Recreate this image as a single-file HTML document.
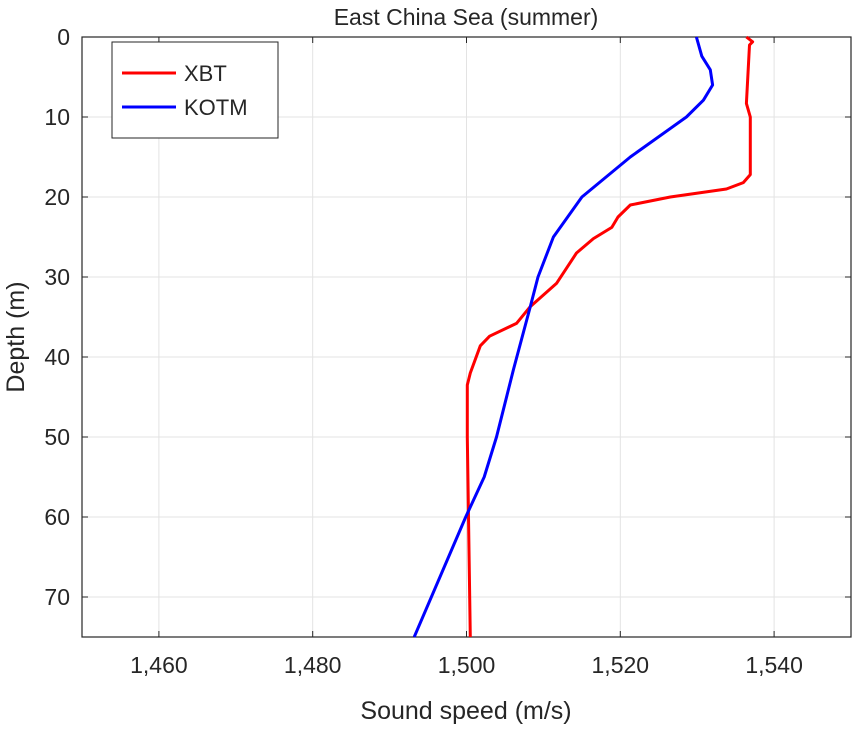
<!DOCTYPE html>
<html><head><meta charset="utf-8"><style>
body{margin:0;background:#fff;}
svg text{font-family:"Liberation Sans",sans-serif;fill:#262626;}
</style></head><body>
<svg id="c" width="853" height="728" xmlns="http://www.w3.org/2000/svg"></svg>
<script>
const xTicks=[1460,1480,1500,1520,1540];
const xTickLabels=["1,460","1,480","1,500","1,520","1,540"];
const yTicks=[0,10,20,30,40,50,60,70];
const kotmDepth=[0,2.4,4.1,6.0,7.9,10,15,20,25,30,33.7,41.6,50,55,60,75];
const kotmSpeed=[1529.9,1530.6,1531.7,1532.0,1530.8,1528.6,1521.3,1515.0,1511.3,1509.3,1508.3,1506.1,1503.9,1502.3,1499.9,1493.2];
const xbtDepth=[0,0.6,1,8.3,10,17.2,18.2,19,20,21,22.5,23.8,25.2,27,30.8,33.7,35.8,37.4,38.6,42,43.5,50,75];
const xbtSpeed=[1536.4,1537.2,1536.8,1536.4,1536.9,1536.9,1536.0,1533.8,1526.5,1521.3,1519.7,1518.9,1516.5,1514.3,1511.7,1508.3,1506.5,1503.0,1501.8,1500.5,1500.1,1500.1,1500.5];
const L=82,R=851,T=37,B=637;
const X=v=>L+(v-1450)/100*(R-L);
const Y=d=>T+d/75*(B-T);
const svg=document.getElementById('c');
const NS='http://www.w3.org/2000/svg';
function mk(tag,attrs,parent){const e=document.createElementNS(NS,tag);for(const k in attrs)e.setAttribute(k,attrs[k]);(parent||svg).appendChild(e);return e;}
const bg=mk('rect',{x:L,y:T,width:R-L,height:B-T,fill:'#fff'});


xTicks.forEach((v,i)=>{
 const g=mk('line',{x1:X(v),x2:X(v),y1:T,y2:B,stroke:'#e3e3e3','stroke-width':1});
 
 
 mk('line',{x1:X(v),x2:X(v),y1:B,y2:B-6,stroke:'#262626'});
 mk('line',{x1:X(v),x2:X(v),y1:T,y2:T+6,stroke:'#262626'});
 const t=mk('text',{x:X(v),y:B+36,'text-anchor':'middle','font-size':23});
 t.textContent=xTickLabels[i];
 
 
});
yTicks.forEach(v=>{
 const g=mk('line',{x1:L,x2:R,y1:Y(v),y2:Y(v),stroke:'#e3e3e3','stroke-width':1});
 
 
 mk('line',{x1:L,x2:L+6,y1:Y(v),y2:Y(v),stroke:'#262626'});
 mk('line',{x1:R,x2:R-6,y1:Y(v),y2:Y(v),stroke:'#262626'});
 const t=mk('text',{x:L-12,y:Y(v)+8,'text-anchor':'end','font-size':23});
 t.textContent=String(v);
 
 
});
const ax=mk('rect',{x:L,y:T,width:R-L,height:B-T,fill:'none',stroke:'#262626','stroke-width':1.2});


function line(sp,dp,color,name){
 const p=sp.map((s,i)=>X(s).toFixed(1)+','+Y(dp[i]).toFixed(1)).join(' ');
 const e=mk('polyline',{points:p,fill:'none',stroke:color,'stroke-width':3,'stroke-linejoin':'round'});
 
 
}
line(xbtSpeed,xbtDepth,'#ff0000','xbt-line');
line(kotmSpeed,kotmDepth,'#0000ff','kotm-line');
const title=mk('text',{x:466,y:25,'text-anchor':'middle','font-size':23});
title.textContent='East China Sea (summer)';


const xl=mk('text',{x:466,y:719,'text-anchor':'middle','font-size':25});
xl.textContent='Sound speed (m/s)';


const yl=mk('text',{x:0,y:0,'text-anchor':'middle','font-size':25,transform:'translate(24,337) rotate(-90)'});
yl.textContent='Depth (m)';


const lg=mk('g',{});


mk('rect',{x:112,y:42,width:166,height:96,fill:'#fff',stroke:'#262626','stroke-width':1},lg);
[['XBT','#ff0000',73],['KOTM','#0000ff',107]].forEach(([n,c,y])=>{
 const e=mk('g',{},lg);
 
 
 mk('line',{x1:122,x2:176,y1:y,y2:y,stroke:c,'stroke-width':3},e);
 const t=mk('text',{x:184,y:y+8,'font-size':22},e);
 t.textContent=n;
});
</script>
</body></html>
